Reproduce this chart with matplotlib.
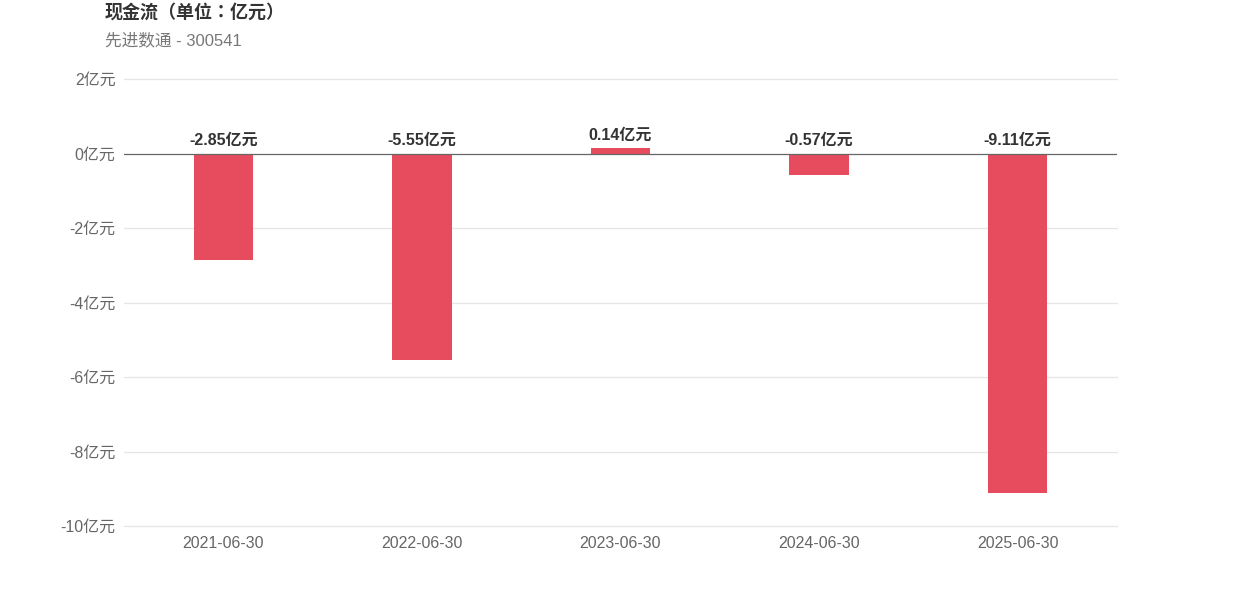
import numpy as np
import matplotlib.pyplot as plt

plt.rcParams['font.family'] = ['Liberation Sans', 'Noto Sans CJK SC', 'DejaVu Sans']

dates = ['2021-06-30', '2022-06-30', '2023-06-30', '2024-06-30', '2025-06-30']
cash_flow = [-2.85, -5.55, 0.14, -0.57, -9.11]
yticks = [2, 0, -2, -4, -6, -8, -10]

fig = plt.figure(figsize=(12.42, 5.96), dpi=100)
ax = fig.add_axes([124 / 1242, 1 - 526 / 596, 993 / 1242, 447 / 596])

x = np.arange(len(dates))
ax.bar(x, cash_flow, width=0.30, color='#E64C5E', zorder=3)

for xi, v in zip(x, cash_flow):
    ax.annotate(f'{v:.2f}亿元', (xi, max(v, 0)), xytext=(0, 4), textcoords='offset points',
                ha='center', va='bottom', fontsize=11.5, fontweight='bold', color='#333333')

ax.set_xlim(-0.5, len(dates) - 0.5)
ax.set_ylim(-10, 2)
ax.set_yticks(yticks)
ax.set_yticklabels([f'{t}亿元' for t in yticks])
ax.set_xticks(x)
ax.set_xticklabels(dates)
ax.tick_params(axis='both', length=0, labelsize=11.5, colors='#666666')
ax.tick_params(axis='y', pad=6)
ax.tick_params(axis='x', pad=7)

for t in yticks:
    if t != 0:
        ax.axhline(t, color='#E6E6E6', lw=0.9, zorder=1, clip_on=False)
ax.axhline(0, color='#666666', lw=0.9, zorder=4)

for s in ax.spines.values():
    s.set_visible(False)

fig.text(105 / 1242, 1 - 13 / 596, '现金流（单位：亿元）', fontsize=13, fontweight='bold',
         color='#333333', va='center', family=['Liberation Sans', 'Noto Sans CJK TC'])
fig.text(105 / 1242, 1 - 40 / 596, '先进数通 - 300541', fontsize=12, color='#777777', va='center')

fig.savefig('out.png', dpi=100)
